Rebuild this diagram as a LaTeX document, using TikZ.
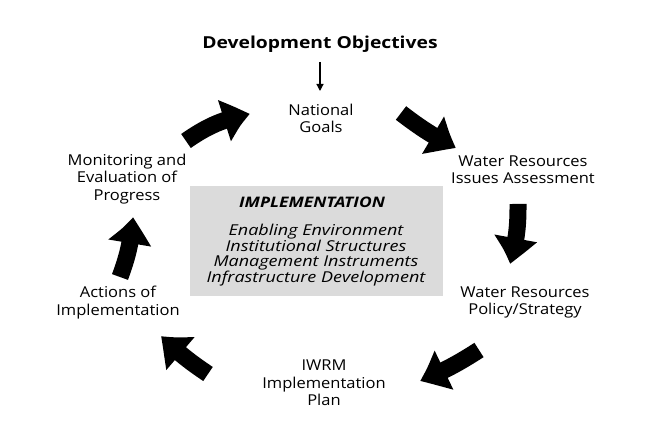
\documentclass[tikz,border=0pt]{standalone}
\usepackage{fontspec}
\setmainfont{Open Sans}[FakeStretch=1.1]
\newfontfamily\boxfont{Open Sans}[FakeStretch=1.2]
\newfontfamily\titlefont{Open Sans}[FakeStretch=1.17]
\usetikzlibrary{arrows.meta,bending}
\begin{document}
\begin{tikzpicture}[x=1pt,y=-1pt,
  lbl/.style={align=center,font=\fontsize{15}{17.3}\selectfont,inner sep=0pt},
  blockarrow/.style={line width=17pt,-{Triangle[width=40pt,length=28pt,bend]}},
  thinarrow/.style={line width=1.2pt,-{Triangle[width=7pt,length=7pt]}}]
\useasboundingbox (0,0) rectangle (659,427);
\node[font=\titlefont\fontsize{16.5}{17}\selectfont\bfseries,inner sep=0pt] (dev) at (320,44) {Development Objectives};
\node[lbl] (ng) at (321,118.5) {National\\Goals};
\node[lbl] (wri) at (523,170) {Water Resources\\Issues Assessment};
\node[lbl] (wrp) at (525,302.5) {Water Resources\\Policy/Strategy};
\node[lbl] (iwrm) at (324,383) {IWRM\\Implementation\\Plan};
\node[lbl] (act) at (118,302.5) {Actions of\\Implementation};
\node[lbl] (mon) at (127,179) {Monitoring and\\Evaluation of\\Progress};
\node[draw=none,fill=black!14,minimum width=253pt,minimum height=110pt,inner sep=0pt] (box) at (316.5,241) {};
\node[lbl,font=\boxfont\fontsize{14.5}{17}\selectfont\bfseries\itshape] (impl) at (312,202) {IMPLEMENTATION};
\node[lbl,font=\boxfont\fontsize{15}{15.7}\selectfont\itshape,anchor=north] (list) at (316,224) {Enabling Environment\\Institutional Structures\\Management Instruments\\Infrastructure Development};
\coordinate (d1) at (320,62);
\coordinate (d2) at (320,91);
\draw[thinarrow] (d1) -- (d2);
\coordinate (a1s) at (186,141);
\coordinate (a1e) at (250,114);
\coordinate (a2s) at (401,113);
\coordinate (a2e) at (456,148);
\coordinate (a3s) at (518,204);
\coordinate (a3e) at (510,264);
\coordinate (a4s) at (479,350);
\coordinate (a4e) at (420,381);
\coordinate (a5s) at (208,374);
\coordinate (a5e) at (161,336);
\coordinate (a6s) at (120,277);
\coordinate (a6e) at (133,217);
\draw[blockarrow] (a1s) to[bend left=12] (a1e);
\draw[blockarrow] (a2s) to[bend right=5] (a2e);
\draw[blockarrow] (a3s) to[bend left=8] (a3e);
\draw[blockarrow] (a4s) to[bend left=5] (a4e);
\draw[blockarrow] (a5s) to[bend left=5] (a5e);
\draw[blockarrow] (a6s) to[bend right=8] (a6e);
\end{tikzpicture}
\end{document}
